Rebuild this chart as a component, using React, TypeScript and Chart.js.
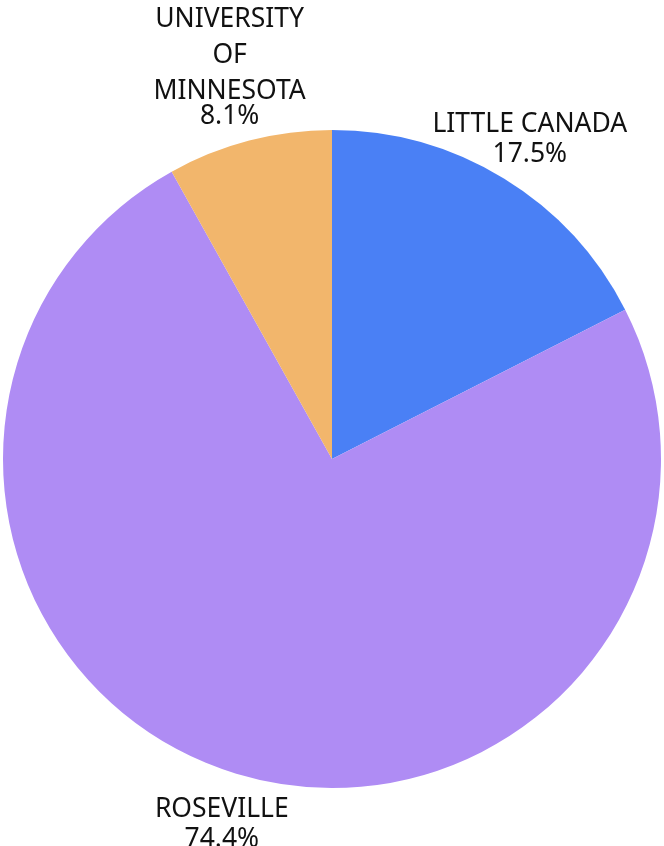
import React, { useEffect, useRef } from "react";
import { Chart, registerables } from "chart.js";

Chart.register(...registerables);

const categories: string[][] = [["LITTLE CANADA"], ["ROSEVILLE"], ["UNIVERSITY", "OF", "MINNESOTA"]];
const values: number[] = [17.5, 74.4, 8.1];
const percentLabels: string[] = ["17.5%", "74.4%", "8.1%"];
const colors: string[] = ["#4a80f5", "#af8cf4", "#f2b66c"];

const FONT = "26.5px 'Noto Sans'";

const outsideLabels = {
  id: "outsideLabels",
  afterDraw(chart: any) {
    const ctx = chart.ctx;
    const meta = chart.getDatasetMeta(0);
    ctx.save();
    ctx.font = FONT;
    ctx.fillStyle = "#111111";
    ctx.textAlign = "center";
    ctx.textBaseline = "middle";
    meta.data.forEach((arc: any, i: number) => {
      const { x, y, startAngle, endAngle, outerRadius } = arc.getProps(
        ["x", "y", "startAngle", "endAngle", "outerRadius"],
        true
      );
      const mid = (startAngle + endAngle) / 2;
      const lines = [...categories[i], percentLabels[i]];
      const labelGap = 36;
      const valueGap = categories[i].length > 1 ? 25 : 30;
      const height = (categories[i].length - 1) * labelGap + valueGap;
      const r = outerRadius + 37 + height * 0.42;
      const cx = x + Math.cos(mid) * r;
      const cy = y + Math.sin(mid) * r + 3;
      let ly = cy - height / 2;
      lines.forEach((line, j) => {
        ctx.fillText(line, cx, ly);
        if (j < categories[i].length - 1) ly += labelGap;
        else ly += valueGap;
      });
    });
    ctx.restore();
  },
};

export default function App() {
  const ref = useRef<HTMLCanvasElement | null>(null);
  useEffect(() => {
    document.body.style.margin = "0";
    if (!ref.current) return;
    const chart = new Chart(ref.current, {
      type: "pie",
      data: {
        labels: categories.map((c) => c.join(" ")),
        datasets: [
          {
            data: values,
            backgroundColor: colors,
            borderWidth: 0,
          },
        ],
      },
      options: {
        responsive: false,
        animation: false,
        layout: { padding: { top: 130, bottom: 58, left: 3, right: 3 } },
        plugins: {
          legend: { display: false },
          tooltip: { enabled: false },
        },
      },
      plugins: [outsideLabels],
    });
    return () => chart.destroy();
  }, []);
  return (
    <div style={{ width: 664, height: 846, background: "#ffffff" }}>
      <canvas ref={ref} width={664} height={846} />
    </div>
  );
}
